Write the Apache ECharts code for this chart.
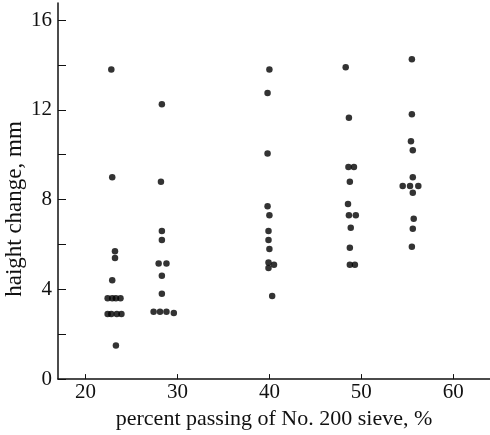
<!DOCTYPE html>
<html lang="en">
<head>
    <meta charset="utf-8">
    <title>height change vs percent passing</title>
    <style>
        html, body { margin: 0; padding: 0; background: #fff; }
        #chart { width: 490px; height: 435px; }
    </style>
</head>
<body>
    <div id="chart"></div>
    <script src="https://cdn.jsdelivr.net/npm/echarts@6/dist/echarts.min.js"></script>
    <script type="text/javascript">
        // [percent passing, height change mm] per group
        var group20 = [[22.8, 13.8], [22.9, 9.0], [23.2, 5.7], [23.2, 5.4], [22.9, 4.4], [22.4, 3.6], [22.9, 3.6], [23.3, 3.6], [23.8, 3.6], [22.4, 2.9], [22.8, 2.9], [23.4, 2.9], [23.9, 2.9], [23.3, 1.5]];
        var group28 = [[28.3, 12.25], [28.2, 8.8], [28.3, 6.6], [28.3, 6.2], [27.95, 5.15], [28.8, 5.15], [28.3, 4.6], [28.3, 3.8], [27.4, 3.0], [28.1, 3.0], [28.8, 3.0], [29.6, 2.95]];
        var group40 = [[40.0, 13.8], [39.8, 12.75], [39.8, 10.05], [39.8, 7.7], [40.0, 7.3], [39.9, 6.6], [39.9, 6.2], [40.0, 5.8], [39.9, 5.2], [40.5, 5.1], [39.9, 4.95], [40.3, 3.7]];
        var group49 = [[48.3, 13.9], [48.65, 11.65], [48.6, 9.45], [49.2, 9.45], [48.75, 8.8], [48.55, 7.8], [48.65, 7.3], [49.4, 7.3], [48.85, 6.75], [48.75, 5.85], [48.75, 5.1], [49.3, 5.1]];
        var group56 = [[55.5, 14.25], [55.5, 11.8], [55.4, 10.6], [55.6, 10.2], [55.6, 9.0], [54.5, 8.6], [55.3, 8.6], [56.2, 8.6], [55.6, 8.3], [55.7, 7.15], [55.6, 6.7], [55.5, 5.9]];

        var xLabels = [20, 30, 40, 50, 60];
        var yLabels = [0, 4, 8, 12, 16];
        var yTicks = [0, 2, 4, 6, 8, 10, 12, 14, 16];

        var font = "'Liberation Serif', 'DejaVu Serif', serif";
        var allPoints = [].concat(group20, group28, group40, group49, group56);

        var chart = echarts.init(document.getElementById("chart"));
        chart.setOption({
            backgroundColor: "#fff",
            animation: false,
            grid: { left: 58, right: 0, top: 3, bottom: 55, containLabel: false },
            graphic: [{
                // y axis title, sits a bit lower than the plot middle in the original
                type: "text",
                x: 3,
                y: 209,
                rotation: Math.PI / 2,
                style: {
                    text: "haight change, mm",
                    fontFamily: font,
                    fontSize: 23,
                    fill: "#111",
                    align: "center",
                    verticalAlign: "top"
                }
            }],
            xAxis: {
                type: "value",
                min: 17,
                max: 64,
                name: "percent passing of No. 200 sieve, %",
                nameLocation: "middle",
                nameGap: 22,
                nameTextStyle: { fontFamily: font, fontSize: 22, color: "#111" },
                axisLine: { show: true, onZero: false, lineStyle: { color: "#111", width: 1.5 } },
                axisTick: { show: true, inside: true, length: 5, customValues: xLabels, lineStyle: { color: "#111" } },
                axisLabel: { customValues: xLabels, margin: 3, fontFamily: font, fontSize: 21, color: "#111" },
                splitLine: { show: false }
            },
            yAxis: {
                type: "value",
                min: 0,
                max: 16.76,
                axisLine: { show: true, onZero: false, lineStyle: { color: "#111", width: 1.5 } },
                axisTick: { show: true, inside: true, length: 8, customValues: yTicks, lineStyle: { color: "#111" } },
                axisLabel: { customValues: yLabels, margin: 6, fontFamily: font, fontSize: 21, color: "#111" },
                splitLine: { show: false }
            },
            series: [{
                type: "scatter",
                symbol: "circle",
                symbolSize: 6.5,
                itemStyle: { color: "#000" },
                data: allPoints
            }]
        });
    </script>
</body>
</html>
